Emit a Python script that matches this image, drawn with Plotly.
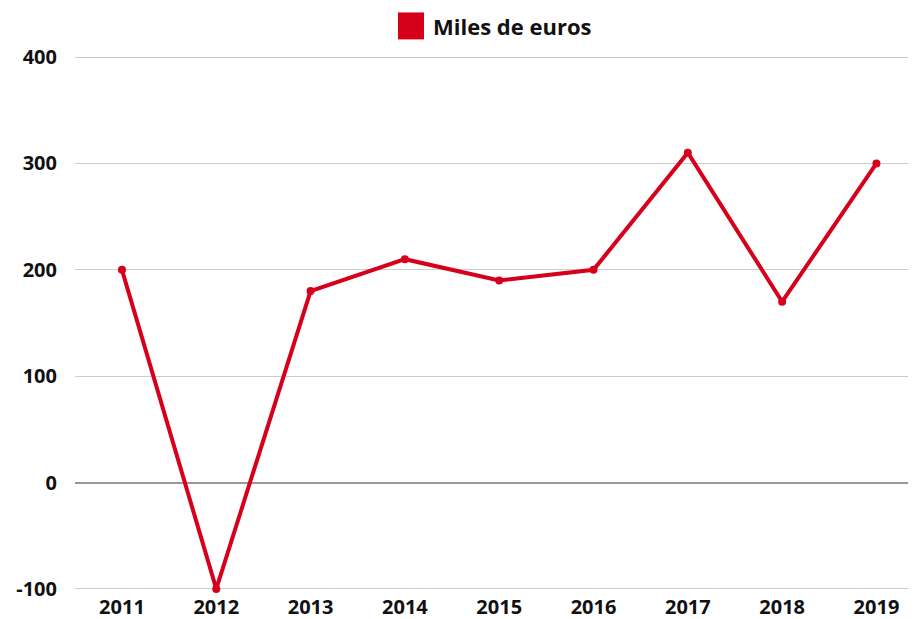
import plotly.graph_objects as go

years = ["2011", "2012", "2013", "2014", "2015", "2016", "2017", "2018", "2019"]
values = [200, -100, 180, 210, 190, 200, 310, 170, 300]
series_name = "Miles de euros"
y_ticks = [-100, 0, 100, 200, 300, 400]

RED = "#d7001a"
FONT = "Open Sans"

# page has an 8px body margin; compensate
OFF = 8
W, H = 916 - OFF, 619 - OFF
PL = 75 - OFF            # plot left in figure px
PW = 841                 # plot width
YR = [-101, 401]
PXU = 532.6 / 500        # px per unit
PH = (YR[1] - YR[0]) * PXU
PT = 56.7 - (YR[1] - 400) * PXU - OFF
PB = H - PT - PH

def pyf(page_y):
    fy = page_y - OFF
    return (PT + PH - fy) / PH

def pxf(page_x):
    fx = page_x - OFF
    return (fx - PL) / PW

fig = go.Figure()
fig.add_trace(go.Scatter(
    x=list(range(len(years))), y=values, mode="lines+markers", name=series_name,
    line=dict(color=RED, width=4), marker=dict(color=RED, size=8),
    showlegend=False, cliponaxis=False,
))

# legend (manual, large square)
fig.add_shape(type="rect", xref="paper", yref="paper",
              x0=pxf(398), x1=pxf(424), y0=pyf(39), y1=pyf(12),
              fillcolor=RED, line=dict(width=0))
fig.add_annotation(xref="paper", yref="paper", x=pxf(431), y=pyf(26),
                   text="<b>" + series_name + "</b>", showarrow=False, xanchor="left", yanchor="middle",
                   font=dict(family=FONT, size=22, color="#111111"))

span = 94.31
left = -0.498
fig.update_layout(
    width=W, height=H,
    margin=dict(l=PL, r=W - PL - PW, t=PT, b=PB, pad=0, autoexpand=False),
    plot_bgcolor="white", paper_bgcolor="white",
    font=dict(family=FONT, size=20, color="#111111"),
    xaxis=dict(
        range=[left, left + PW / span],
        tickmode="array", tickvals=list(range(len(years))), ticktext=["<b>%s</b>" % y for y in years],
        showgrid=False, zeroline=False, showline=False, ticks="",
        ticklabelstandoff=3, automargin=False,
    ),
    yaxis=dict(
        range=YR, tickmode="array", tickvals=y_ticks,
        ticktext=["<b>%d</b>" % v for v in y_ticks],
        showgrid=True, gridcolor="#cccccc", gridwidth=1,
        zeroline=True, zerolinecolor="#999999", zerolinewidth=1.5,
        showline=False, ticks="", ticklabelstandoff=17, automargin=False,
    ),
)

fig.write_html("out.html")
